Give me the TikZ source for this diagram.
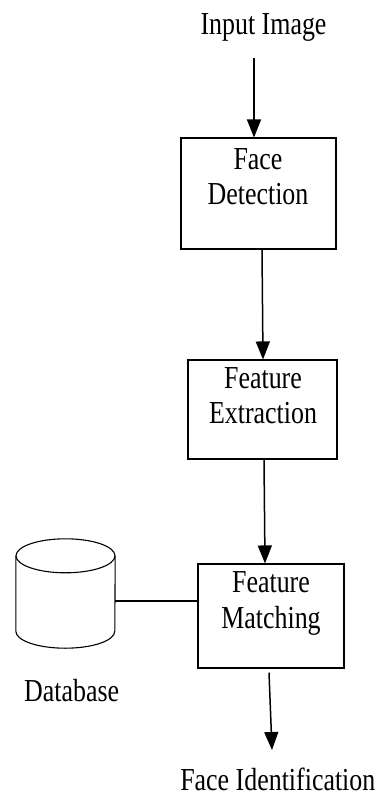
\documentclass[tikz,border=0pt]{standalone}
\usepackage{fontspec}
\setmainfont{Liberation Serif}[FakeStretch=0.81]
\usetikzlibrary{arrows.meta}
\begin{document}
\begin{tikzpicture}[x=1pt,y=-1pt,
  lbl/.style={font=\fontsize{32}{35.5}\selectfont, inner sep=0pt, align=center},
  stage/.style={draw, line width=1.1pt, inner sep=0pt},
  arr/.style={line width=1.5pt, -{Triangle[length=18pt,width=14pt]}},
  link/.style={line width=1.1pt}]
\fill[white] (0,0) rectangle (378,796);
\useasboundingbox (0,0) rectangle (378,796);

% processing stages
\node[stage, minimum width=155pt, minimum height=111pt] (det) at (258.5,193.5) {};
\node[stage, minimum width=149pt, minimum height=99pt]  (ext) at (262.5,409.5) {};
\node[stage, minimum width=146pt, minimum height=104pt] (mat) at (271,616) {};

% stage captions
\node[lbl, anchor=north] (detT) at (258,148.3) {Face\\Detection};
\node[lbl, anchor=north] (extT) at (263,367.3) {Feature\\Extraction};
\node[lbl, anchor=north] (matT) at (271,571.7) {Feature\\Matching};

% input and output labels
\node[lbl, anchor=base] (inp) at (263.5,34) {Input Image};
\node[lbl, anchor=base] (out) at (277.8,790.5) {Face Identification};

% database cylinder
\node[minimum width=99pt, minimum height=75pt, inner sep=0pt] (db) at (65.5,593.5) {};
\draw[link] (db.north) ellipse [x radius=49.5pt, y radius=17pt];
\draw[link] (db.north west) -- (db.south west)
  arc [start angle=180, end angle=360, x radius=49.5pt, y radius=17pt]
  -- (db.north east);
\node[lbl, anchor=base] (dbT) at (71.7,701.7) {Database};

% connectors
\coordinate (a0) at (254,58);
\draw[arr] (a0) -- (a0 |- det.north);
\draw[arr] ([xshift=3.5pt]det.south) -- ([xshift=0.5pt]ext.north);
\draw[arr] ([xshift=1.5pt]ext.south) -- ([xshift=-6pt]mat.north);
\coordinate (a4) at (272,750);
\draw[arr] ([xshift=-2pt,yshift=-4pt]mat.south) -- (a4);
\draw[link] ([yshift=-7.5pt]db.east) coordinate (dbp) -- (dbp -| mat.west);
\end{tikzpicture}
\end{document}
